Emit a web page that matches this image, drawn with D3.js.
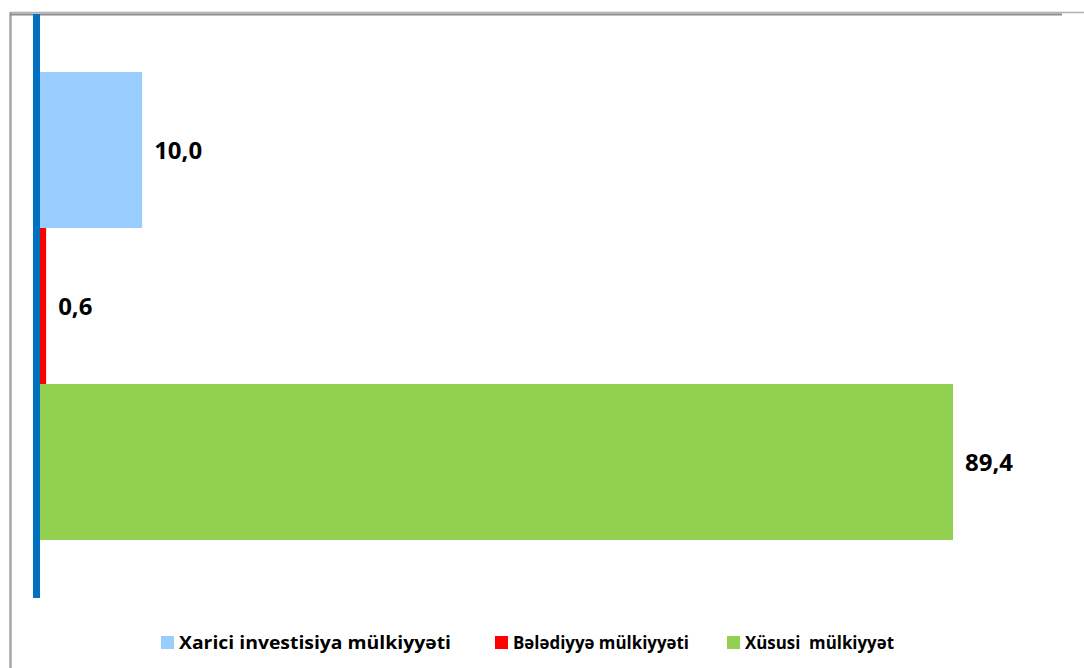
<!DOCTYPE html>
<html>
<head>
<meta charset="utf-8">
<script src="https://cdn.jsdelivr.net/npm/d3@7"></script>
<style>
  html, body { margin: 0; padding: 0; background: #fff; }
  svg { display: block; font-family: "Open Sans", "DejaVu Sans", sans-serif; }
</style>
</head>
<body>
<div id="chart"></div>
<script>
// categories, top to bottom
var categories = ['Xarici investisiya mülkiyyəti', 'Bələdiyyə mülkiyyəti', 'Xüsusi  mülkiyyət'];
var values = [10.0, 0.6, 89.4];
var valueLabels = ['10,0', '0,6', '89,4'];
var colors = ['#99CCFF', '#FF0000', '#92D050'];

var width = 1084, height = 668;

var svg = d3.select('#chart').append('svg')
    .attr('width', width)
    .attr('height', height);

// frame lines of the picture
svg.append('line')
    .attr('x1', 10.5).attr('x2', 10.5).attr('y1', 12).attr('y2', height)
    .attr('stroke', '#a6a6a6').attr('stroke-width', 2.5);
svg.append('line')
    .attr('x1', 10).attr('x2', width).attr('y1', 12.5).attr('y2', 12.5)
    .attr('stroke', '#b0b0b0').attr('stroke-width', 1.5);
svg.append('line')
    .attr('x1', 10).attr('x2', 1062).attr('y1', 14.5).attr('y2', 14.5)
    .attr('stroke', '#8c8c8c').attr('stroke-width', 2);

// scales
var x = d3.scaleLinear().domain([0, 89.4]).range([40, 953]);
var y = d3.scaleBand().domain(categories).range([14, 598])
    .paddingInner(0).paddingOuter(0.372);

// bars
svg.append('g').selectAll('rect')
    .data(categories)
    .join('rect')
    .attr('x', x(0))
    .attr('y', function(d) { return y(d); })
    .attr('width', function(d, i) { return x(values[i]) - x(0); })
    .attr('height', y.bandwidth())
    .attr('fill', function(d, i) { return colors[i]; });

// value labels
svg.append('g').selectAll('text')
    .data(categories)
    .join('text')
    .attr('x', function(d, i) { return x(values[i]) + 12; })
    .attr('y', function(d) { return y(d) + y.bandwidth() / 2; })
    .attr('dy', '0.36em')
    .attr('font-size', 24)
    .attr('font-weight', 'bold')
    .attr('fill', '#000')
    .text(function(d, i) { return valueLabels[i]; });

// the vertical axis line
svg.append('line')
    .attr('x1', 36.5).attr('x2', 36.5).attr('y1', 14).attr('y2', 598)
    .attr('stroke', '#0070C0').attr('stroke-width', 7);

// legend
var legendX = [161, 495, 727];
var legendTextWidth = [272, 176, 149];
var legend = svg.append('g').selectAll('g')
    .data(categories)
    .join('g')
    .attr('transform', function(d, i) { return 'translate(' + legendX[i] + ',636)'; });

legend.append('rect')
    .attr('width', 13).attr('height', 13)
    .attr('fill', function(d, i) { return colors[i]; });

legend.append('text')
    .attr('x', 18)
    .attr('y', 13)
    .attr('font-size', 18.5)
    .attr('font-weight', 'bold')
    .attr('fill', '#000')
    .attr('textLength', function(d, i) { return legendTextWidth[i]; })
    .attr('lengthAdjust', 'spacingAndGlyphs')
    .style('white-space', 'pre')
    .text(function(d) { return d; });
</script>
</body>
</html>
